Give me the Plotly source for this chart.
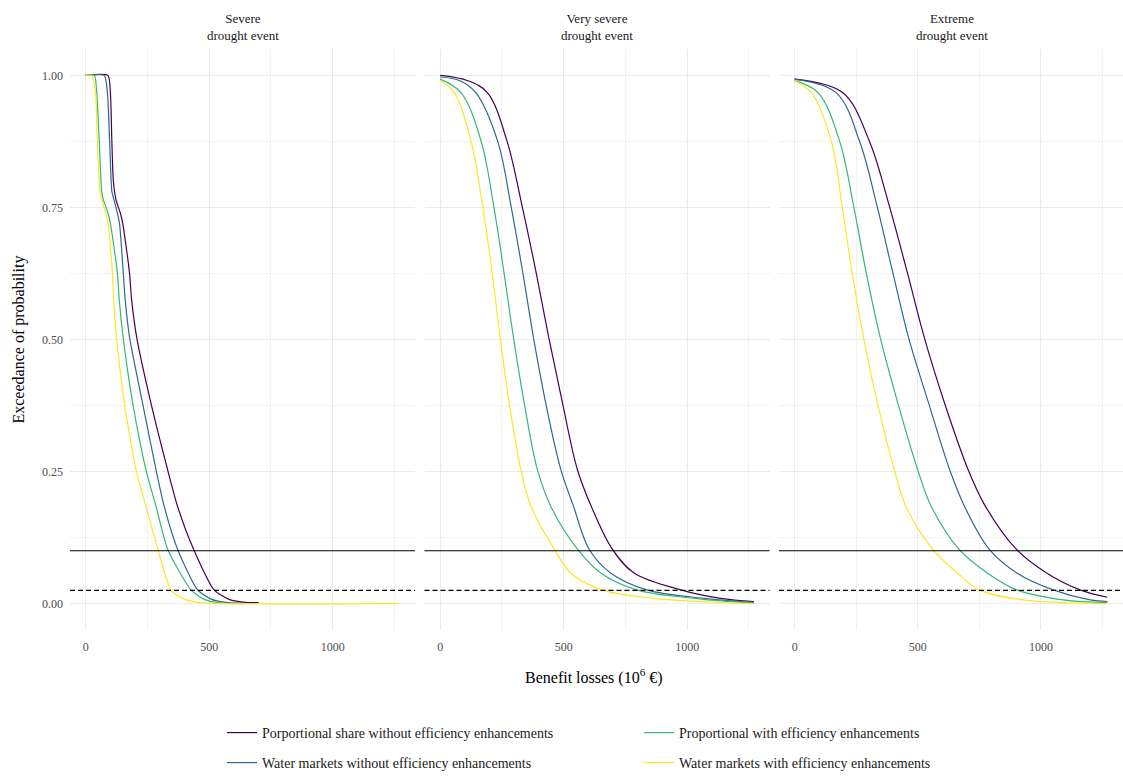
import plotly.graph_objects as go

# ---------------- data ----------------
panel_titles = ["Severe<br>drought event", "Very severe<br>drought event", "Extreme<br>drought event"]
series_names = [
    "Porportional share without efficiency enhancements",
    "Water markets without efficiency enhancements",
    "Proportional with efficiency enhancements",
    "Water markets with efficiency enhancements",
]
series_colors = ["#440154", "#31688E", "#35B779", "#FDE725"]
legend_rows = ["legend", "legend2", "legend", "legend2"]
thresholds_solid = [0.1]
thresholds_dashed = [0.025]
x_ticks = [0, 500, 1000]
y_ticks = [0, 0.25, 0.5, 0.75, 1.0]

# Severe drought event
sev_ps_x = [0, 90, 100, 106, 112, 123, 140, 150, 177, 186, 207, 265, 332, 372, 437, 520, 580, 655, 700]
sev_ps_y = [1.0, 1.0, 0.967, 0.875, 0.80, 0.764, 0.74, 0.72, 0.628, 0.575, 0.503, 0.378, 0.253, 0.184, 0.103, 0.026, 0.008, 0.002, 0.002]
sev_wm_x = [0, 75, 88, 97, 106, 115, 128, 137, 152, 160, 178, 231, 285, 318, 372, 453, 510, 575, 640]
sev_wm_y = [1.0, 1.0, 0.967, 0.875, 0.78, 0.764, 0.74, 0.72, 0.628, 0.575, 0.503, 0.378, 0.253, 0.184, 0.103, 0.026, 0.008, 0.002, 0.001]
sev_pe_x = [0, 35, 45, 55, 65, 72, 90, 100, 128, 136, 152, 191, 244, 285, 332, 426, 480, 534, 600]
sev_pe_y = [1.0, 1.0, 0.967, 0.875, 0.78, 0.764, 0.74, 0.72, 0.628, 0.575, 0.503, 0.378, 0.253, 0.184, 0.103, 0.026, 0.008, 0.002, 0.0]
sev_we_x = [0, 25, 40, 47, 58, 66, 80, 90, 108, 113, 125, 157, 204, 244, 292, 345, 400, 467, 550, 1265]
sev_we_y = [1.0, 1.0, 0.967, 0.875, 0.78, 0.764, 0.74, 0.72, 0.628, 0.575, 0.503, 0.378, 0.253, 0.184, 0.103, 0.026, 0.008, 0.002, 0.0, 0.0]

# Very severe drought event
vs_ps_x = [0, 112, 192, 271, 332, 388, 440, 496, 556, 612, 697, 785, 974, 1135, 1270]
vs_ps_y = [1.0, 0.99, 0.967, 0.875, 0.752, 0.628, 0.503, 0.378, 0.253, 0.184, 0.103, 0.058, 0.026, 0.010, 0.004]
vs_wm_x = [0, 80, 145, 233, 287, 334, 378, 428, 489, 540, 603, 690, 837, 1068, 1270]
vs_wm_y = [0.997, 0.99, 0.967, 0.875, 0.752, 0.628, 0.503, 0.378, 0.253, 0.184, 0.103, 0.058, 0.026, 0.010, 0.002]
vs_pe_x = [0, 85, 166, 217, 258, 297, 341, 394, 448, 556, 650, 796, 1028, 1270]
vs_pe_y = [0.993, 0.967, 0.875, 0.752, 0.628, 0.503, 0.378, 0.253, 0.184, 0.103, 0.058, 0.026, 0.010, 0.001]
vs_we_x = [0, 58, 125, 172, 210, 243, 280, 327, 368, 462, 529, 655, 867, 1270]
vs_we_y = [0.99, 0.967, 0.875, 0.752, 0.628, 0.503, 0.378, 0.253, 0.184, 0.103, 0.058, 0.026, 0.010, 0.0]

# Extreme drought event
ex_ps_x = [0, 196, 304, 385, 457, 527, 610, 705, 775, 900, 1023, 1159, 1270]
ex_ps_y = [0.993, 0.967, 0.875, 0.752, 0.628, 0.503, 0.378, 0.253, 0.184, 0.103, 0.058, 0.026, 0.012]
ex_wm_x = [0, 169, 264, 335, 398, 463, 545, 630, 690, 790, 902, 1050, 1200, 1270]
ex_wm_y = [0.993, 0.967, 0.875, 0.752, 0.628, 0.503, 0.378, 0.253, 0.184, 0.103, 0.058, 0.026, 0.007, 0.004]
ex_pe_x = [0, 96, 183, 240, 290, 348, 420, 500, 555, 667, 782, 902, 1091, 1270]
ex_pe_y = [0.99, 0.967, 0.875, 0.752, 0.628, 0.503, 0.378, 0.253, 0.184, 0.103, 0.058, 0.026, 0.007, 0.002]
ex_we_x = [0, 69, 149, 193, 233, 280, 337, 405, 452, 560, 661, 749, 930, 1270]
ex_we_y = [0.99, 0.967, 0.875, 0.752, 0.628, 0.503, 0.378, 0.253, 0.184, 0.103, 0.058, 0.026, 0.007, 0.0]

panels = [
    [(sev_ps_x, sev_ps_y), (sev_wm_x, sev_wm_y), (sev_pe_x, sev_pe_y), (sev_we_x, sev_we_y)],
    [(vs_ps_x, vs_ps_y), (vs_wm_x, vs_wm_y), (vs_pe_x, vs_pe_y), (vs_we_x, vs_we_y)],
    [(ex_ps_x, ex_ps_y), (ex_wm_x, ex_wm_y), (ex_pe_x, ex_pe_y), (ex_we_x, ex_we_y)],
]
panel_smoothing = [0.6, 1.0, 1.0]

# ---------------- layout geometry ----------------
FONT = "Liberation Serif, Times New Roman, serif"
W, H = 1123, 776
ML, MR, MT, MB = 70, 0, 49, 146
PW = W - ML - MR
PH = H - MT - MB
panel_w = 345
panel_gap = 9.5
x_range = [-63.5, 1333.5]
y_range = [-0.05, 1.05]
grid_major = "#EBEBEB"
grid_minor = "#F2F2F2"

fig = go.Figure()

for p, series in enumerate(panels):
    xa = "x" if p == 0 else f"x{p+1}"
    ya = "y" if p == 0 else f"y{p+1}"
    for s, (xs, ys) in enumerate(series):
        fig.add_trace(go.Scatter(
            x=xs, y=ys, mode="lines",
            line=dict(color=series_colors[s], width=1.2, shape="spline", smoothing=panel_smoothing[p]),
            name=series_names[s],
            legend=legend_rows[s],
            showlegend=(p == 0),
            xaxis=xa, yaxis=ya,
            hoverinfo="skip",
        ))
    for t in thresholds_solid:
        fig.add_shape(type="line", xref=f"{xa} domain", yref=ya, x0=0, x1=1, y0=t, y1=t,
                      line=dict(color="black", width=1.2))
    for t in thresholds_dashed:
        fig.add_shape(type="line", xref=f"{xa} domain", yref=ya, x0=0, x1=1, y0=t, y1=t,
                      line=dict(color="black", width=1.2, dash="5px,3px"))

layout = dict(
    width=W, height=H, autosize=False,
    margin=dict(l=ML, r=MR, t=MT, b=MB, autoexpand=False),
    paper_bgcolor="white", plot_bgcolor="white",
    font=dict(family=FONT, color="#1A1A1A"),
    showlegend=True,
)

for p in range(3):
    x0 = (p * (panel_w + panel_gap)) / PW
    x1 = min(1.0, (p * (panel_w + panel_gap) + panel_w) / PW)
    xkey = "xaxis" if p == 0 else f"xaxis{p+1}"
    ykey = "yaxis" if p == 0 else f"yaxis{p+1}"
    ya = "y" if p == 0 else f"y{p+1}"
    xa = "x" if p == 0 else f"x{p+1}"
    layout[xkey] = dict(
        domain=[x0, x1], anchor=ya, range=x_range,
        tickvals=x_ticks, ticktext=[str(v) for v in x_ticks],
        showgrid=True, gridcolor=grid_major, gridwidth=1,
        zeroline=False, showline=False, ticks="",
        ticklabelstandoff=8,
        tickfont=dict(family=FONT, size=12, color="#4D4D4D"),
        minor=dict(tickvals=[250, 750, 1250], showgrid=True, gridcolor=grid_minor, gridwidth=1),
    )
    layout[ykey] = dict(
        domain=[0, 1], anchor=xa, range=y_range,
        tickvals=y_ticks, ticktext=[f"{v:.2f}" for v in y_ticks],
        showticklabels=(p == 0),
        showgrid=True, gridcolor=grid_major, gridwidth=1,
        zeroline=False, showline=False, ticks="",
        ticklabelstandoff=6,
        tickfont=dict(family=FONT, size=12, color="#4D4D4D"),
        minor=dict(tickvals=[0.125, 0.375, 0.625, 0.875], showgrid=True, gridcolor=grid_minor, gridwidth=1),
    )

legend_common = dict(
    orientation="h", xanchor="left", yanchor="middle",
    x=(222 - ML) / PW, entrywidth=372, entrywidthmode="pixels",
    font=dict(family=FONT, size=14, color="#1A1A1A"),
    bgcolor="rgba(0,0,0,0)", itemwidth=30, tracegroupgap=0,
)
layout["legend"] = dict(legend_common, y=(H - MB - 733) / PH)
layout["legend2"] = dict(legend_common, y=(H - MB - 763) / PH)

fig.update_layout(**layout)

annotations = []
for p in range(3):
    cx = (p * (panel_w + panel_gap) + panel_w / 2) / PW
    annotations.append(dict(
        text=panel_titles[p], x=cx, y=1, xref="paper", yref="paper",
        xanchor="center", yanchor="bottom", yshift=4, showarrow=False,
        font=dict(family=FONT, size=13, color="#1A1A1A"), align="center",
    ))
annotations.append(dict(
    text="Benefit losses (10<sup>6</sup> €)", x=(594 - ML) / PW, y=(H - MB - 676) / PH,
    xref="paper", yref="paper", xanchor="center", yanchor="middle", showarrow=False,
    font=dict(family=FONT, size=16, color="black"),
))
annotations.append(dict(
    text="Exceedance of probability", x=(18 - ML) / PW, y=0.5,
    xref="paper", yref="paper", xanchor="center", yanchor="middle", showarrow=False,
    textangle=-90, font=dict(family=FONT, size=16, color="black"),
))
fig.update_layout(annotations=annotations)

fig.write_html(
    "out.html",
    config={"displayModeBar": False},
    post_script="document.body.style.margin='0';document.body.style.overflow='hidden';",
)
